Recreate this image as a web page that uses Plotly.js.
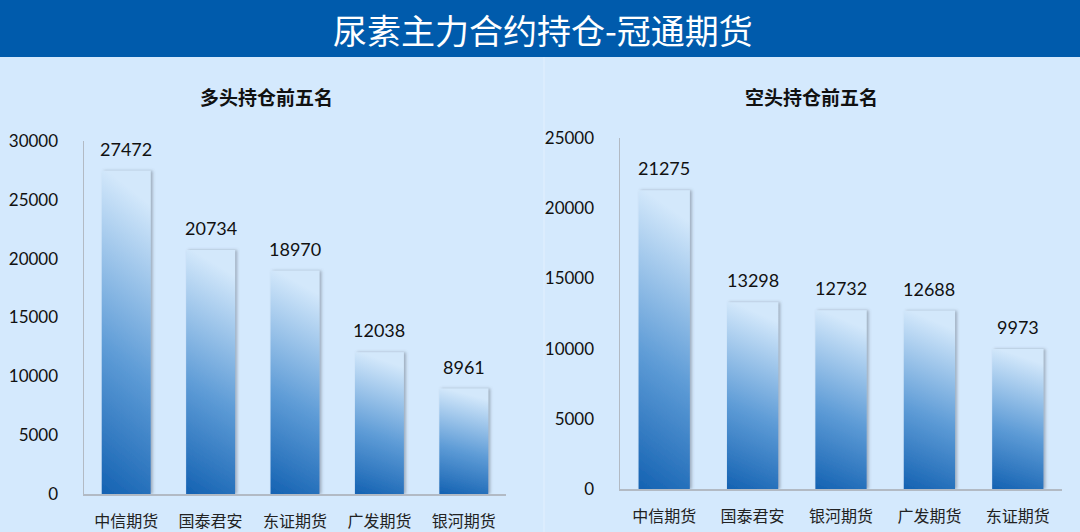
<!DOCTYPE html>
<html>
<head>
<meta charset="utf-8">
<script src="https://cdn.plot.ly/plotly-3.0.1.min.js"></script>
<style>
html,body{margin:0;padding:0;background:#d4e9fd;}
#chart{width:1080px;height:532px;}
</style>
</head>
<body>
<div id="chart"></div>
<script>
var mainTitle = '尿素主力合约持仓-冠通期货';
var longTitle = '多头持仓前五名';
var shortTitle = '空头持仓前五名';
var longNames = ['中信期货','国泰君安','东证期货','广发期货','银河期货'];
var longVals = [27472,20734,18970,12038,8961];
var shortNames = ['中信期货','国泰君安','银河期货','广发期货','东证期货'];
var shortVals = [21275,13298,12732,12688,9973];

var W = 1080, H = 532;
function px(x){return x/W;}
function py(y){return 1 - y/H;}

var numFont = 'Lato, "Noto Sans CJK SC", sans-serif';
var cjkFont = '"Noto Sans CJK SC", sans-serif';
var lineCol = '#b2bac4';

var traces = [
  {type:'bar', x:longNames, y:longVals, xaxis:'x', yaxis:'y',
   marker:{color:'#5b9bd5', line:{width:0}}, hoverinfo:'skip'},
  {type:'bar', x:shortNames, y:shortVals, xaxis:'x2', yaxis:'y2',
   marker:{color:'#5b9bd5', line:{width:0}}, hoverinfo:'skip'}
];

var annotations = [];
longNames.forEach(function(n,i){
  annotations.push({xref:'x', yref:'y', x:n, y:longVals[i], text:String(longVals[i]),
    showarrow:false, yanchor:'bottom', yshift:9, font:{family:numFont, size:18, color:'#111'}});
});
shortNames.forEach(function(n,i){
  annotations.push({xref:'x2', yref:'y2', x:n, y:shortVals[i], text:String(shortVals[i]),
    showarrow:false, yanchor:'bottom', yshift:9, font:{family:numFont, size:18, color:'#111'}});
});
annotations.push({xref:'paper', yref:'paper', x:0.503, y:py(30), yanchor:'middle', xanchor:'center',
  text:mainTitle, showarrow:false, font:{family:cjkFont, size:34, color:'#ffffff'}});
annotations.push({xref:'paper', yref:'paper', x:px(266), y:py(96), yanchor:'middle', xanchor:'center',
  text:'<b>'+longTitle+'</b>', showarrow:false, font:{family:cjkFont, size:19, color:'#111'}});
annotations.push({xref:'paper', yref:'paper', x:px(811), y:py(96), yanchor:'middle', xanchor:'center',
  text:'<b>'+shortTitle+'</b>', showarrow:false, font:{family:cjkFont, size:19, color:'#111'}});

function yax(domain, range){
  return {domain:domain, range:range, dtick:5000, tick0:0, tickformat:'d', showline:true, linecolor:lineCol, linewidth:1.5,
    showgrid:false, zeroline:false, ticks:'', ticklabelstandoff:21,
    tickfont:{family:numFont, size:17, color:'#111'}, fixedrange:true};
}
function xax(domain){
  return {domain:domain, range:[-0.5,4.5], type:'category', showline:true, linecolor:lineCol, linewidth:1.5,
    showgrid:false, zeroline:false, ticks:'', ticklabelstandoff:12,
    tickfont:{family:cjkFont, size:16, color:'#222'}, fixedrange:true};
}

var layout = {
  width:W, height:H,
  margin:{l:0,r:0,t:0,b:0},
  paper_bgcolor:'#d4e9fd', plot_bgcolor:'rgba(0,0,0,0)',
  showlegend:false, bargap:0.42,
  xaxis: Object.assign(xax([px(84), px(506)]), {anchor:'y'}),
  yaxis: Object.assign(yax([py(494), py(141)], [0,30000]), {anchor:'x'}),
  xaxis2: Object.assign(xax([px(620), px(1062)]), {anchor:'y2'}),
  yaxis2: Object.assign(yax([py(489), py(138)], [0,25000]), {anchor:'x2'}),
  shapes:[
    {type:'rect', xref:'paper', yref:'paper', x0:0, x1:1, y0:py(57), y1:1, fillcolor:'#005bac', line:{width:0}, layer:'below'},
    {type:'line', xref:'paper', yref:'paper', x0:px(544), x1:px(544), y0:0, y1:py(57), line:{color:'#e3f0fe', width:1}, layer:'below'}
  ],
  annotations:annotations
};

Plotly.newPlot('chart', traces, layout, {staticPlot:true, displayModeBar:false}).then(function(gd){
  var svgNS = 'http://www.w3.org/2000/svg';
  var svg = gd.querySelector('svg.main-svg');
  var defs = svg.querySelector('defs');
  if(!defs){defs = document.createElementNS(svgNS,'defs'); svg.insertBefore(defs, svg.firstChild);}
  var g = document.createElementNS(svgNS,'linearGradient');
  g.setAttribute('id','barGrad');
  g.setAttribute('x1','0'); g.setAttribute('y1','1'); g.setAttribute('x2','0.12'); g.setAttribute('y2','0');
  [['0','#1462b2'],['0.45','#5d9bd6'],['1','#d3e8fb']].forEach(function(s){
    var st = document.createElementNS(svgNS,'stop');
    st.setAttribute('offset',s[0]); st.setAttribute('stop-color',s[1]);
    g.appendChild(st);
  });
  defs.appendChild(g);
  var f = document.createElementNS(svgNS,'filter');
  f.setAttribute('id','barShadow');
  f.setAttribute('x','-20%'); f.setAttribute('y','-5%'); f.setAttribute('width','140%'); f.setAttribute('height','110%');
  var ds = document.createElementNS(svgNS,'feDropShadow');
  ds.setAttribute('dx','2'); ds.setAttribute('dy','0'); ds.setAttribute('stdDeviation','1.5');
  ds.setAttribute('flood-color','#5a6470'); ds.setAttribute('flood-opacity','0.45');
  f.appendChild(ds);
  defs.appendChild(f);
  gd.querySelectorAll('.bars .point path').forEach(function(p){
    p.style.fill = 'url(#barGrad)';
    p.setAttribute('filter','url(#barShadow)');
  });
});
</script>
</body>
</html>
